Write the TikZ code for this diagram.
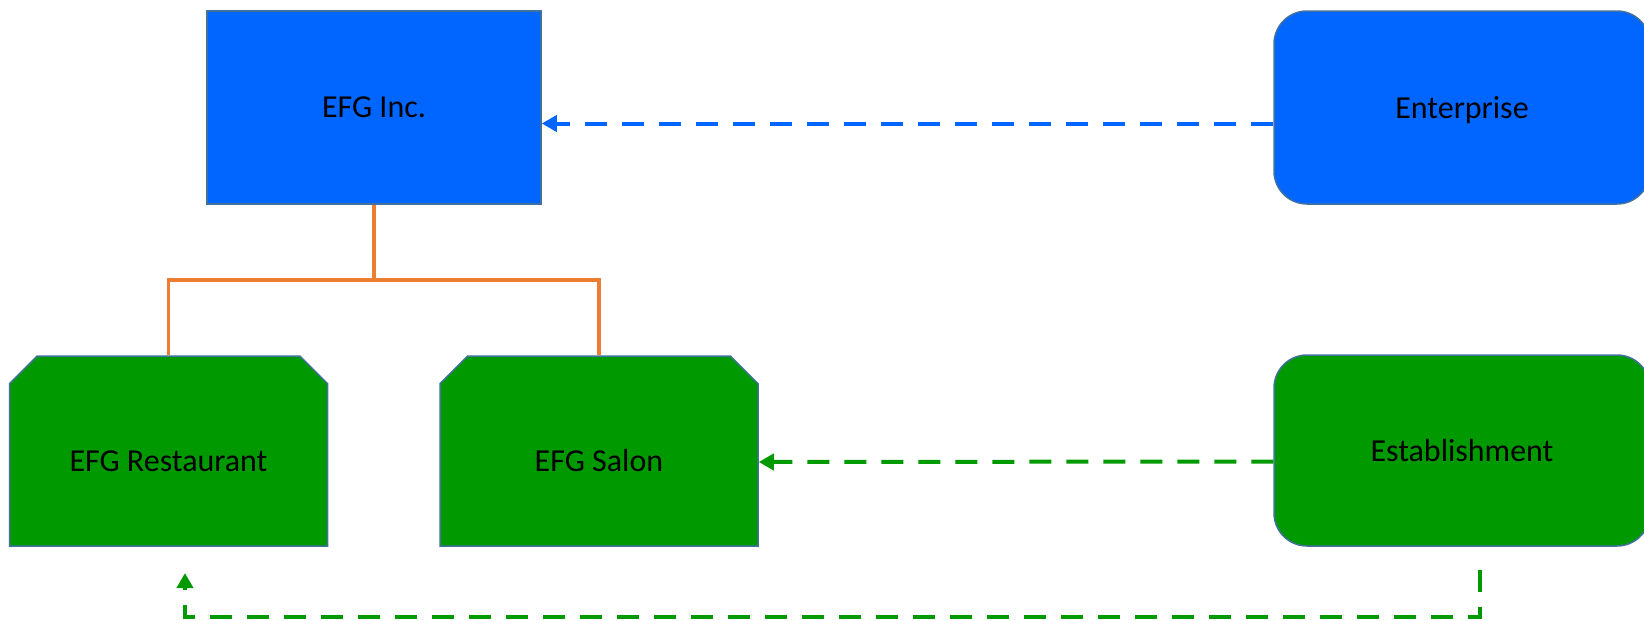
\documentclass[tikz,border=0pt]{standalone}
\usepackage{fontspec}
\setmainfont{Carlito}
\usepackage{tikz}
\usepackage{xcolor}
\usetikzlibrary{calc}
\usetikzlibrary{shapes}
\usetikzlibrary{shapes.misc}
\usetikzlibrary{arrows.meta}
\usetikzlibrary{positioning}

\definecolor{entblue}{HTML}{0066FF}
\definecolor{estgreen}{HTML}{009900}
\definecolor{linkorange}{HTML}{ED7D31}
\definecolor{edgegray}{HTML}{41719C}

\tikzset{
  unitbox/.style={draw=edgegray, line width=0.75pt, inner sep=0pt, text depth=0pt,
    font=\fontsize{16}{19}\selectfont},
  incbox/.style={unitbox, rectangle, fill=entblue},
  kindbox/.style={unitbox, rectangle, rounded corners=16.5pt, minimum width=188pt},
  shopbox/.style={unitbox, chamfered rectangle, fill=estgreen,
    chamfered rectangle corners={north west,north east},
    chamfered rectangle xsep=7pt, chamfered rectangle ysep=6.8pt,
    minimum width=159pt, minimum height=95pt, text height=20.5pt},
  dashlink/.style={line width=2pt, dash pattern=on 11pt off 7.5pt,
    -{Triangle[length=7.5pt,width=8pt]}},
  treeline/.style={draw=linkorange, line width=1.9pt}
}

\begin{document}
\begin{tikzpicture}[x=0.5pt, y=-0.5pt]
\clip (0,0) rectangle (1644,621);

% Company (node)
\node[incbox, minimum width=167pt, minimum height=96.5pt] (inc) at (374,107.5) {EFG Inc.};
\node[kindbox, fill=entblue, minimum height=96.5pt] (ent) at (1462,107.5) {Enterprise};

% Locations (nodes)
\node[shopbox] (rest) at (168.5,451) {EFG Restaurant};
\node[shopbox] (salon) at (599,451) {EFG Salon};
\node[kindbox, fill=estgreen, minimum height=95.5pt] (est) at (1462,450.5) {Establishment};

% Tree lines
\coordinate (split) at (374,280);
\draw[treeline] (inc.south) -- (split) -| (rest.north);
\draw[treeline] (split) -| (salon.north);

% Arrows from the kinds to the units
\draw[dashlink, entblue] ($(ent.west)+(0,16)$) -- ($(inc.east)+(0,16)$);
\draw[dashlink, estgreen] ($(est.west)+(0,11)$) -- ($(salon.east)+(0,11)$);

\coordinate (estfoot) at (1480,570);
\coordinate (restfoot) at (185,573);
\coordinate (bend) at (185,617);
\draw[dashlink, estgreen] (estfoot) |- (bend) -- (restfoot);
\end{tikzpicture}
\end{document}
